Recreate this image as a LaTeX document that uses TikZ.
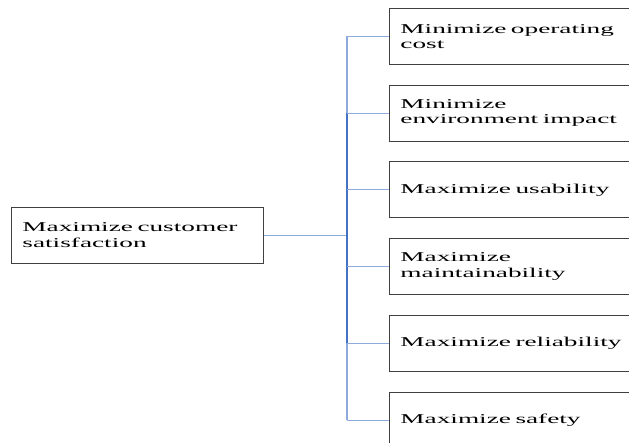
\documentclass[tikz,border=0pt]{standalone}
\usepackage{fontspec}
\setmainfont{Liberation Serif}[FakeStretch=2.02]
\usepackage{tikz}
\usetikzlibrary{positioning, calc}
\usepackage{xcolor}
\definecolor{linklight}{RGB}{143,170,220}
\definecolor{linkdark}{RGB}{68,114,196}
\definecolor{boxline}{RGB}{64,64,64}

\tikzset{
  goalbox/.style={draw=boxline, line width=0.9pt, rectangle, text width=230pt, minimum height=56pt, inner xsep=11pt, inner ysep=0pt, align=left},
  objbox/.style={draw=boxline, line width=0.9pt, rectangle, text width=238pt, minimum height=56pt, inner xsep=11pt, inner ysep=0pt, align=left},
  link/.style={draw=linklight, line width=0.8pt},
  spinedark/.style={draw=linkdark, line width=1.3pt},
  spinelight/.style={draw=linklight, line width=1.3pt}
}

\begin{document}
\begin{tikzpicture}[x=1pt, y=1pt, node distance=19.8pt, font=\fontsize{13.5}{15.5}\selectfont]
      \useasboundingbox (0,0) rectangle (629,-443);
      \clip (0,0) rectangle (629,-443);

      % Goal
      \node [goalbox, anchor=west] (goal) at (11,-235) {Maximize customer\\satisfaction};

      % Objectives
      \node [objbox, anchor=north west] (obj1) at (389,-8) {Minimize operating\\cost};
      \node [objbox, below=of obj1] (obj2) {Minimize\\environment impact};
      \node [objbox, below=of obj2] (obj3) {Maximize usability};
      \node [objbox, below=of obj3] (obj4) {Maximize\\maintainability};
      \node [objbox, below=of obj4] (obj5) {Maximize reliability};
      \node [objbox, below=of obj5] (obj6) {Maximize safety};

      % Spine
      \coordinate (spine) at (347,0);
      \draw [link] (goal.east) -- (goal.east -| spine);
      \draw [spinelight] (obj1.west -| spine) -- (obj2.west -| spine);
      \draw [spinedark] (obj2.west -| spine) -- (obj5.west -| spine);
      \draw [spinelight] (obj5.west -| spine) -- (obj6.west -| spine);

      % Branches
      \draw [link] (obj1.west -| spine) -- (obj1.west);
      \draw [link] (obj2.west -| spine) -- (obj2.west);
      \draw [link] (obj3.west -| spine) -- (obj3.west);
      \draw [link] (obj4.west -| spine) -- (obj4.west);
      \draw [link] (obj5.west -| spine) -- (obj5.west);
      \draw [link] (obj6.west -| spine) -- (obj6.west);
    \end{tikzpicture}
\end{document}
